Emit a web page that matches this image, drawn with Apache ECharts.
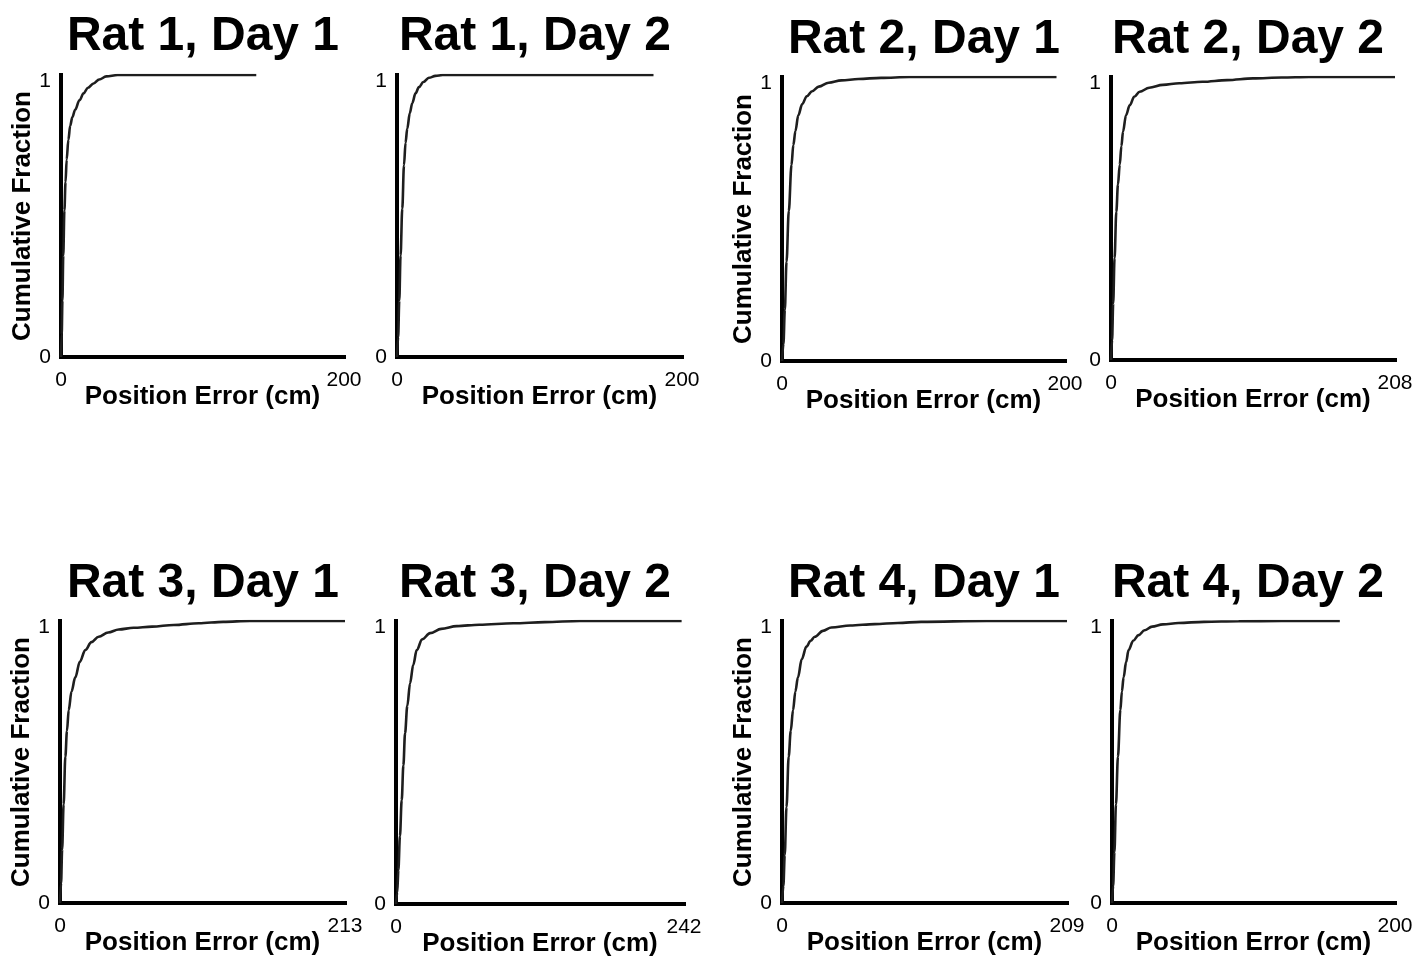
<!DOCTYPE html>
<html>
<head>
<meta charset="utf-8">
<title>Position Error CDFs</title>
<script src="https://cdn.jsdelivr.net/npm/echarts@6/dist/echarts.min.js"></script>
<style>
  html, body { margin: 0; padding: 0; background: #ffffff; }
  #chart { width: 1415px; height: 956px; }
</style>
</head>
<body>
<div id="chart"></div>
<script>
// Panel titles and x-axis upper limits (cm)
const panelTitles = ['Rat 1, Day 1', 'Rat 1, Day 2', 'Rat 2, Day 1', 'Rat 2, Day 2',
                     'Rat 3, Day 1', 'Rat 3, Day 2', 'Rat 4, Day 1', 'Rat 4, Day 2'];
const xMaxValues = [200, 200, 200, 208, 213, 242, 209, 200];

// Cumulative fraction of decoding position error, one pair of arrays per session
const rat1Day1Err  = [0, 0.5, 1.0, 1.6, 2.4, 3.2, 4.0, 5.2, 6.5, 8, 10, 13, 16, 19, 23, 27, 32, 40, 80, 138];
const rat1Day1Frac = [0, 0.08, 0.2, 0.36, 0.52, 0.62, 0.70, 0.77, 0.82, 0.85, 0.877, 0.91, 0.935, 0.955, 0.97, 0.984, 0.995, 1, 1, 1];

const rat1Day2Err  = [0, 0.8, 1.6, 2.5, 3.7, 4.9, 6, 7.2, 9, 10.7, 13, 15.4, 18.5, 22.4, 27, 32, 60, 100, 150, 180];
const rat1Day2Frac = [0, 0.07, 0.2, 0.36, 0.526, 0.68, 0.76, 0.81, 0.865, 0.90, 0.935, 0.957, 0.975, 0.99, 0.997, 1, 1, 1, 1, 1];

const rat2Day1Err  = [0, 1, 2, 3.2, 4.8, 6.7, 8, 9.5, 11.5, 14.3, 17.5, 21.3, 26, 33, 42, 54, 70, 90, 130, 194];
const rat2Day1Frac = [0, 0.06, 0.18, 0.35, 0.528, 0.69, 0.76, 0.81, 0.865, 0.905, 0.932, 0.95, 0.966, 0.98, 0.988, 0.993, 0.997, 1, 1, 1];

const rat2Day2Err  = [0, 0.8, 1.6, 2.6, 3.9, 5.1, 6.4, 7.6, 8.8, 11, 13.7, 17, 21, 28, 38, 50, 67, 85, 104, 125, 145, 208];
const rat2Day2Frac = [0, 0.07, 0.2, 0.36, 0.524, 0.62, 0.69, 0.755, 0.807, 0.865, 0.90, 0.93, 0.948, 0.962, 0.972, 0.978, 0.983, 0.989, 0.995, 0.998, 1, 1];

const rat3Day1Err  = [0, 0.8, 1.6, 2.7, 4.0, 5.2, 6.5, 8.6, 11.4, 14.8, 18.9, 23.5, 28.9, 36, 43.9, 55, 68.8, 85, 103.7, 122, 142, 213];
const rat3Day1Frac = [0, 0.07, 0.19, 0.35, 0.519, 0.61, 0.684, 0.75, 0.80, 0.855, 0.897, 0.925, 0.944, 0.959, 0.97, 0.976, 0.98, 0.986, 0.992, 0.997, 1, 1];

const rat3Day2Err  = [0, 1, 2, 3.3, 4.8, 6.2, 7.6, 9.5, 11.8, 14.5, 17.4, 22, 28.6, 38, 51, 70, 98.6, 125, 154.6, 200, 240];
const rat3Day2Frac = [0, 0.04, 0.12, 0.24, 0.367, 0.49, 0.603, 0.70, 0.78, 0.845, 0.897, 0.935, 0.957, 0.972, 0.982, 0.987, 0.992, 0.996, 1, 1, 1];

const rat4Day1Err  = [0, 1, 2, 3.3, 4.9, 6.4, 8.1, 9.8, 11.7, 14.5, 17.9, 21, 24, 30, 36.2, 50, 68, 85, 102, 150, 209];
const rat4Day1Frac = [0, 0.06, 0.17, 0.34, 0.519, 0.61, 0.684, 0.75, 0.80, 0.865, 0.909, 0.93, 0.944, 0.965, 0.977, 0.984, 0.989, 0.993, 0.997, 1, 1];

const rat4Day2Err  = [0, 0.8, 1.7, 2.8, 4.2, 5.9, 7, 8.2, 10, 11.7, 15, 18.8, 23, 28.3, 36, 47, 65, 89.5, 120, 161];
const rat4Day2Frac = [0, 0.06, 0.18, 0.35, 0.519, 0.684, 0.75, 0.80, 0.855, 0.897, 0.93, 0.95, 0.967, 0.98, 0.988, 0.993, 0.997, 0.999, 1, 1];

const errSeries  = [rat1Day1Err, rat1Day2Err, rat2Day1Err, rat2Day2Err, rat3Day1Err, rat3Day2Err, rat4Day1Err, rat4Day2Err];
const fracSeries = [rat1Day1Frac, rat1Day2Frac, rat2Day1Frac, rat2Day2Frac, rat3Day1Frac, rat3Day2Frac, rat4Day1Frac, rat4Day2Frac];

const yTickLabels = ['0', '1'];
const xAxisName = 'Position Error (cm)';
const yAxisName = 'Cumulative Fraction';

// Layout of the 8 panels (px)
const FONT = "'Liberation Sans', Arial, Helvetica, sans-serif";
const TICK_SIZE = 21;
const gridBoxes = [
  { left: 61,   top: 75,  width: 283, height: 282 },
  { left: 397,  top: 75,  width: 285, height: 282 },
  { left: 782,  top: 77,  width: 283, height: 284 },
  { left: 1111, top: 77,  width: 284, height: 283 },
  { left: 60,   top: 621, width: 285, height: 282 },
  { left: 396,  top: 621, width: 288, height: 283 },
  { left: 782,  top: 621, width: 285, height: 282 },
  { left: 1112, top: 621, width: 283, height: 282 }
];
const titleSpots = [
  { x: 198, y: 8 },  { x: 530, y: 8 },  { x: 919, y: 11 }, { x: 1243, y: 11 },
  { x: 198, y: 555 }, { x: 530, y: 555 }, { x: 919, y: 555 }, { x: 1243, y: 555 }
];
const showYName = [true, false, true, false, true, false, true, false];

const axisLine = { show: true, lineStyle: { color: '#000', width: 4, cap: 'square' } };

const option = {
  backgroundColor: '#ffffff',
  animation: false,
  title: panelTitles.map((t, i) => ({
    text: t,
    left: titleSpots[i].x,
    top: titleSpots[i].y,
    textAlign: 'center',
    textStyle: { fontFamily: FONT, fontSize: 48, fontWeight: 'bold', color: '#000' }
  })),
  grid: gridBoxes.map(g => ({
    left: g.left, top: g.top, width: g.width, height: g.height,
    containLabel: false,
    outerBoundsMode: 'none'
  })),
  xAxis: xMaxValues.map((m, i) => ({
    type: 'value',
    gridIndex: i,
    min: 0,
    max: m,
    interval: m,
    axisLine: axisLine,
    axisTick: { show: false },
    splitLine: { show: false },
    axisLabel: {
      margin: 13,
      fontFamily: FONT,
      fontSize: TICK_SIZE,
      color: '#000',
      showMinLabel: true,
      showMaxLabel: true
    },
    name: xAxisName,
    nameLocation: 'middle',
    nameGap: 27,
    nameMoveOverlap: false,
    nameTextStyle: { fontFamily: FONT, fontSize: 26, fontWeight: 'bold', color: '#000' }
  })),
  yAxis: xMaxValues.map((m, i) => ({
    type: 'value',
    gridIndex: i,
    min: 0,
    max: 1,
    interval: 1,
    axisLine: axisLine,
    axisTick: { show: false },
    splitLine: { show: false },
    axisLabel: {
      margin: 10,
      fontFamily: FONT,
      fontSize: TICK_SIZE,
      color: '#000',
      formatter: v => (v >= 1 ? '{one|' + yTickLabels[1] + '}' : '{zero|' + yTickLabels[0] + '}'),
      rich: {
        one: { fontFamily: FONT, fontSize: TICK_SIZE, color: '#000', padding: [12, 0, 0, 0] },
        zero: { fontFamily: FONT, fontSize: TICK_SIZE, color: '#000' }
      }
    },
    name: showYName[i] ? yAxisName : '',
    nameLocation: 'middle',
    nameGap: 25,
    nameMoveOverlap: false,
    nameTextStyle: { fontFamily: FONT, fontSize: 26, fontWeight: 'bold', color: '#000' }
  })),
  series: errSeries.map((xs, i) => ({
    type: 'line',
    xAxisIndex: i,
    yAxisIndex: i,
    data: xs.map((x, k) => [x, fracSeries[i][k]]),
    showSymbol: false,
    smooth: 0.35,
    smoothMonotone: 'x',
    lineStyle: { color: '#1e1e1e', width: 2.6 },
    z: 1
  }))
};

const chart = echarts.init(document.getElementById('chart'), null, { renderer: 'canvas' });
chart.setOption(option);
</script>
</body>
</html>
